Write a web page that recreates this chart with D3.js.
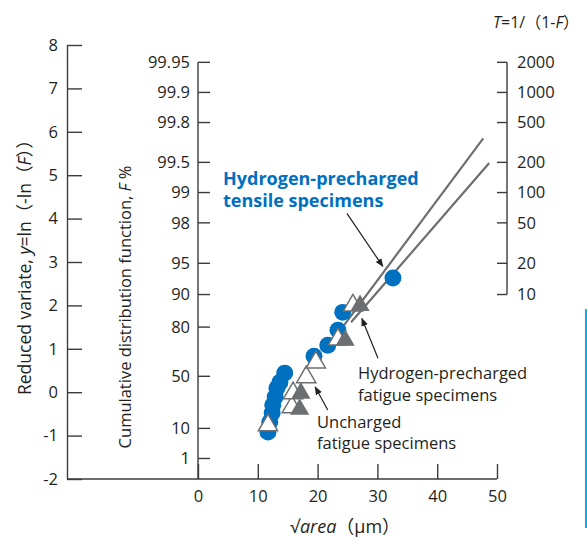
<!DOCTYPE html>
<html>
<head>
<meta charset="utf-8">
<title>Extreme value plot</title>
<script src="https://cdn.jsdelivr.net/npm/d3@7"></script>
<style>
  body { margin: 0; background: #fff; }
  svg { display: block; font-family: "Open Sans", "Noto Sans", "Noto Sans CJK JP", sans-serif; }
  .axis text { font-size: 16.5px; fill: #231f20; font-family: "Open Sans", sans-serif; }
  .axis path, .axis line { stroke: #3c3c3c; stroke-width: 1.4; }
  .note { font-size: 16.5px; fill: #231f20; }
</style>
</head>
<body>
<script>
// data (x = sqrt(area) in um, y = reduced variate)
const tensileX = [11.7, 12.0, 12.4, 12.5, 12.9, 13.2, 13.7, 14.5, 19.4, 21.7, 23.4, 24.2, 32.6];
const tensileY = [-0.92, -0.69, -0.48, -0.30, -0.11, 0.09, 0.23, 0.44, 0.83, 1.08, 1.43, 1.84, 2.63];
const unchargedX = [11.7, 15.7, 15.9, 18.1, 19.7, 23.4, 25.9];
const unchargedY = [-0.74, -0.32, 0.00, 0.37, 0.71, 1.24, 2.02];
const prechargedX = [17.0, 17.2, 24.6, 27.1];
const prechargedY = [-0.37, 0.00, 1.22, 2.02];
// fitted lines (end points)
const fitA = [[24.4, 1.54], [47.7, 5.85]];
const fitB = [[25.6, 1.61], [48.7, 5.28]];

const yTicks = [-2, -1, 0, 1, 2, 3, 4, 5, 6, 7, 8];
const xTicks = [0, 10, 20, 30, 40, 50];
const fTicks = [1, 10, 50, 80, 90, 95, 98, 99, 99.5, 99.8, 99.9, 99.95];
const tTicks = [10, 20, 50, 100, 200, 500, 1000, 2000];

const W = 587, H = 538;
const svg = d3.select('body').append('svg').attr('width', W).attr('height', H);

const x = d3.scaleLinear().domain([0, 50]).range([198, 497]);
const y = d3.scaleLinear().domain([-2, 8]).range([479, 45]);
// reduced variate from F (fraction)
const rv = F => -Math.log(-Math.log(F));
const yF = f => y(rv(f / 100));
const yT = t => y(rv(1 - 1 / t));

// left axis: reduced variate
svg.append('g').attr('class', 'axis')
  .attr('transform', 'translate(67,0)')
  .call(d3.axisLeft(y).tickValues(yTicks).tickFormat(d => String(d))
    .tickSizeInner(-15).tickSizeOuter(0).tickPadding(9));

// middle axis: cumulative distribution F %
const midAxis = svg.append('g').attr('class', 'axis').attr('transform', 'translate(198,0)');
midAxis.append('line').attr('x1', 0).attr('x2', 0).attr('y1', yF(99.95)).attr('y2', y(-2));
fTicks.forEach(f => {
  const g = midAxis.append('g').attr('transform', `translate(0,${yF(f)})`);
  g.append('line').attr('x1', 0).attr('x2', 12);
  g.append('text').attr('x', -8).attr('dy', '0.35em').attr('text-anchor', 'end').text(f);
});

// right axis: return period T
const rightAxis = svg.append('g').attr('class', 'axis').attr('transform', 'translate(507,0)');
rightAxis.append('line').attr('x1', 0).attr('x2', 0).attr('y1', yT(2000)).attr('y2', yT(10));
tTicks.forEach(t => {
  const g = rightAxis.append('g').attr('transform', `translate(0,${yT(t)})`);
  g.append('line').attr('x1', -10).attr('x2', 0);
  g.append('text').attr('x', 10).attr('dy', '0.35em').text(t);
});

// bottom axis
svg.append('line')
  .attr('x1', 67).attr('x2', x(50)).attr('y1', y(-2)).attr('y2', y(-2))
  .attr('stroke', '#3c3c3c').attr('stroke-width', 1.4);
svg.append('g').attr('class', 'axis')
  .attr('transform', `translate(0,${y(-2)})`)
  .call(d3.axisBottom(x).tickValues(xTicks).tickFormat(d => String(d))
    .tickSizeInner(-15).tickSizeOuter(0).tickPadding(11))
  .select('.domain').remove();

// fitted lines
const line = d3.line().x(d => x(d[0])).y(d => y(d[1]));
[fitA, fitB].forEach(f => {
  svg.append('path').attr('d', line(f)).attr('fill', 'none')
    .attr('stroke', '#6d6e71').attr('stroke-width', 2.2);
});

// markers
const circ = d3.symbol().type(d3.symbolCircle).size(225);
const tri = d3.symbol().type(d3.symbolTriangle).size(160);

svg.append('g').selectAll('path')
  .data(d3.range(tensileX.length))
  .join('path')
  .attr('d', circ)
  .attr('transform', i => `translate(${x(tensileX[i])},${y(tensileY[i])})`)
  .attr('fill', '#0070c0');

svg.append('g').selectAll('path')
  .data(d3.range(unchargedX.length))
  .join('path')
  .attr('d', tri)
  .attr('transform', i => `translate(${x(unchargedX[i])},${y(unchargedY[i]) + 1})`)
  .attr('fill', '#fff').attr('stroke', '#6d6e71').attr('stroke-width', 1.5);

svg.append('g').selectAll('path')
  .data(d3.range(prechargedX.length))
  .join('path')
  .attr('d', tri)
  .attr('transform', i => `translate(${x(prechargedX[i])},${y(prechargedY[i]) + 1})`)
  .attr('fill', '#6d6e71');

// arrows
const defs = svg.append('defs');
defs.append('marker').attr('id', 'ah')
  .attr('viewBox', '0 0 10 10').attr('refX', 9).attr('refY', 5)
  .attr('markerWidth', 7).attr('markerHeight', 7).attr('orient', 'auto')
  .append('path').attr('d', 'M0,1L10,5L0,9Z').attr('fill', '#231f20');

const arrows = [
  [[24.9, 4.12], [30.9, 2.90]],
  [[30.1, 0.78], [27.4, 1.70]],
  [[21.7, -0.41], [19.6, 0.12]]
];
arrows.forEach(a => {
  svg.append('line')
    .attr('x1', x(a[0][0])).attr('y1', y(a[0][1]))
    .attr('x2', x(a[1][0])).attr('y2', y(a[1][1]))
    .attr('stroke', '#231f20').attr('stroke-width', 1.2)
    .attr('marker-end', 'url(#ah)');
});

// annotation labels
const blue1 = svg.append('text').attr('font-size', 18).attr('font-weight', 700).attr('fill', '#0070c0')
  .attr('x', 223).attr('y', 185).text('Hydrogen-precharged');
const blue2 = svg.append('text').attr('font-size', 18).attr('font-weight', 700).attr('fill', '#0070c0')
  .attr('x', 223).attr('y', 207).text('tensile specimens');

const n1 = svg.append('text').attr('class', 'note');
n1.append('tspan').attr('x', 358).attr('y', 379).text('Hydrogen-precharged');
n1.append('tspan').attr('x', 358).attr('y', 401).text('fatigue specimens');

const n2 = svg.append('text').attr('class', 'note');
n2.append('tspan').attr('x', 317).attr('y', 428).text('Uncharged');
n2.append('tspan').attr('x', 317).attr('y', 449).text('fatigue specimens');

// axis titles
const t1 = svg.append('text').attr('transform', 'translate(31,263) rotate(-90)')
  .attr('text-anchor', 'middle').attr('font-size', 17.5).attr('fill', '#231f20');
t1.append('tspan').text('Reduced variate, ');
t1.append('tspan').attr('font-style', 'italic').text('y');
t1.append('tspan').text('=ln\uFF08-ln\uFF08');
t1.append('tspan').attr('font-style', 'italic').text('F');
t1.append('tspan').text('\uFF09\uFF09');

const t2 = svg.append('text').attr('transform', 'translate(131,307) rotate(-90)')
  .attr('text-anchor', 'middle').attr('font-size', 16.5).attr('fill', '#231f20');
t2.append('tspan').text('Cumulative distribution function, ');
t2.append('tspan').attr('font-style', 'italic').text('F');
t2.append('tspan').text(' %');

const t3 = svg.append('text').attr('x', 290).attr('y', 533).attr('font-size', 18).attr('fill', '#231f20');
t3.append('tspan').text('\u221A');
t3.append('tspan').attr('font-style', 'italic').text('area');
t3.append('tspan').text('\uFF08\u03BCm\uFF09');

const t4 = svg.append('text').attr('x', 493).attr('y', 28).attr('font-size', 16).attr('fill', '#231f20');
t4.append('tspan').attr('font-style', 'italic').text('T');
t4.append('tspan').text('=1/\uFF081-');
t4.append('tspan').attr('font-style', 'italic').text('F');
t4.append('tspan').text('\uFF09');

// light blue edge line at the right border
svg.append('line').attr('x1', 586).attr('x2', 586).attr('y1', 309).attr('y2', 528)
  .attr('stroke', '#00b0f0').attr('stroke-width', 2);
</script>
</body>
</html>
